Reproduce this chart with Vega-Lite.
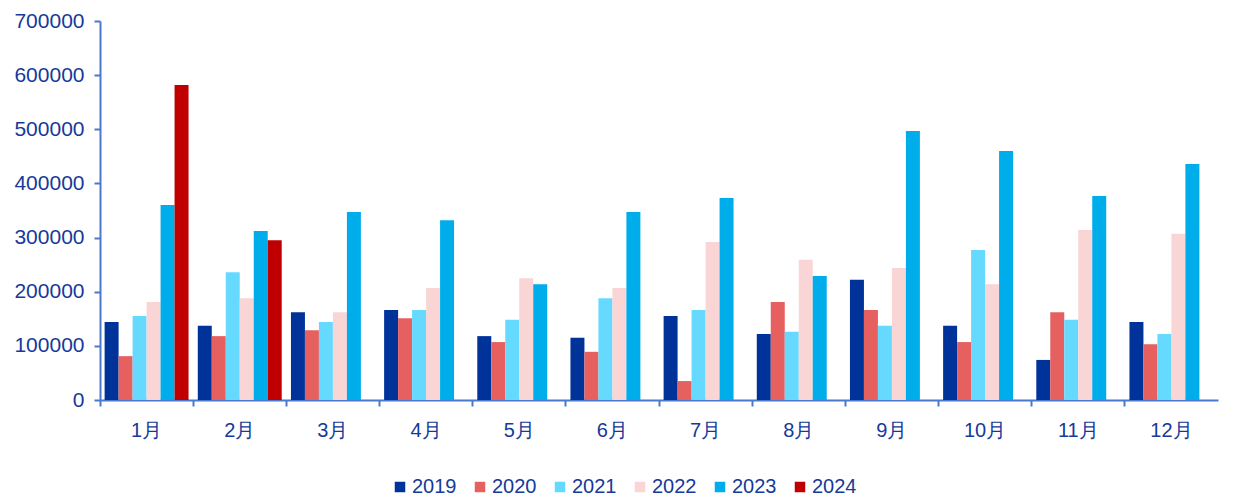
{
  "$schema": "https://vega.github.io/schema/vega-lite/v6.json",
  "autosize": "none",
  "width": 1118,
  "height": 379,
  "padding": {"left": 100, "top": 21, "right": 31, "bottom": 96},
  "background": "white",
  "config": {
    "view": {"stroke": null},
    "font": "Liberation Sans",
    "axis": {"labelFont": "Liberation Sans", "labelColor": "#16399A", "domainColor": "#4A78CC", "tickColor": "#4A78CC", "domainWidth": 2, "tickWidth": 2, "grid": false},
    "legend": {"labelFont": "Liberation Sans", "labelColor": "#16399A"}
  },
  "data": {
    "values": [
      {"m": "1月", "y": "2019", "v": 144000}, {"m": "1月", "y": "2020", "v": 81000}, {"m": "1月", "y": "2021", "v": 155000}, {"m": "1月", "y": "2022", "v": 181000}, {"m": "1月", "y": "2023", "v": 360000}, {"m": "1月", "y": "2024", "v": 582000},
      {"m": "2月", "y": "2019", "v": 137000}, {"m": "2月", "y": "2020", "v": 118000}, {"m": "2月", "y": "2021", "v": 236000}, {"m": "2月", "y": "2022", "v": 188000}, {"m": "2月", "y": "2023", "v": 312000}, {"m": "2月", "y": "2024", "v": 295000},
      {"m": "3月", "y": "2019", "v": 162000}, {"m": "3月", "y": "2020", "v": 129000}, {"m": "3月", "y": "2021", "v": 144000}, {"m": "3月", "y": "2022", "v": 162000}, {"m": "3月", "y": "2023", "v": 347000},
      {"m": "4月", "y": "2019", "v": 166000}, {"m": "4月", "y": "2020", "v": 151000}, {"m": "4月", "y": "2021", "v": 166000}, {"m": "4月", "y": "2022", "v": 207000}, {"m": "4月", "y": "2023", "v": 332000},
      {"m": "5月", "y": "2019", "v": 118000}, {"m": "5月", "y": "2020", "v": 107000}, {"m": "5月", "y": "2021", "v": 148000}, {"m": "5月", "y": "2022", "v": 225000}, {"m": "5月", "y": "2023", "v": 214000},
      {"m": "6月", "y": "2019", "v": 115000}, {"m": "6月", "y": "2020", "v": 89000}, {"m": "6月", "y": "2021", "v": 188000}, {"m": "6月", "y": "2022", "v": 207000}, {"m": "6月", "y": "2023", "v": 347000},
      {"m": "7月", "y": "2019", "v": 155000}, {"m": "7月", "y": "2020", "v": 35000}, {"m": "7月", "y": "2021", "v": 166000}, {"m": "7月", "y": "2022", "v": 292000}, {"m": "7月", "y": "2023", "v": 373000},
      {"m": "8月", "y": "2019", "v": 122000}, {"m": "8月", "y": "2020", "v": 181000}, {"m": "8月", "y": "2021", "v": 126000}, {"m": "8月", "y": "2022", "v": 259000}, {"m": "8月", "y": "2023", "v": 229000},
      {"m": "9月", "y": "2019", "v": 222000}, {"m": "9月", "y": "2020", "v": 166000}, {"m": "9月", "y": "2021", "v": 137000}, {"m": "9月", "y": "2022", "v": 244000}, {"m": "9月", "y": "2023", "v": 497000},
      {"m": "10月", "y": "2019", "v": 137000}, {"m": "10月", "y": "2020", "v": 107000}, {"m": "10月", "y": "2021", "v": 277000}, {"m": "10月", "y": "2022", "v": 214000}, {"m": "10月", "y": "2023", "v": 460000},
      {"m": "11月", "y": "2019", "v": 74000}, {"m": "11月", "y": "2020", "v": 162000}, {"m": "11月", "y": "2021", "v": 148000}, {"m": "11月", "y": "2022", "v": 314000}, {"m": "11月", "y": "2023", "v": 377000},
      {"m": "12月", "y": "2019", "v": 144000}, {"m": "12月", "y": "2020", "v": 103000}, {"m": "12月", "y": "2021", "v": 122000}, {"m": "12月", "y": "2022", "v": 307000}, {"m": "12月", "y": "2023", "v": 436000}
    ]
  },
  "mark": {"type": "bar"},
  "encoding": {
    "x": {
      "field": "m", "type": "nominal", "sort": null,
      "scale": {"paddingInner": 0, "paddingOuter": 0},
      "axis": {"title": null, "labelAngle": 0, "labelFontSize": 20, "bandPosition": 0, "tickSize": 6, "labelPadding": 14, "labelAlign": "center"}
    },
    "xOffset": {
      "field": "y", "type": "nominal",
      "scale": {"paddingInner": 0, "paddingOuter": 0.33}
    },
    "y": {
      "field": "v", "type": "quantitative",
      "scale": {"domain": [0, 700000], "nice": false},
      "axis": {"title": null, "values": [0, 100000, 200000, 300000, 400000, 500000, 600000, 700000], "format": "d", "labelFontSize": 21, "tickSize": 6, "labelPadding": 10}
    },
    "color": {
      "field": "y", "type": "nominal",
      "scale": {"domain": ["2019", "2020", "2021", "2022", "2023", "2024"], "range": ["#003399", "#E66060", "#66D9FF", "#F9D5D5", "#00ADEB", "#C00000"]},
      "legend": {"title": null, "orient": "none", "direction": "horizontal", "legendX": 290, "legendY": 456, "symbolType": "square", "symbolSize": 110, "symbolStrokeWidth": 0, "labelFontSize": 20, "columnPadding": 13, "symbolOffset": 0, "labelOffset": 2}
    }
  }
}
